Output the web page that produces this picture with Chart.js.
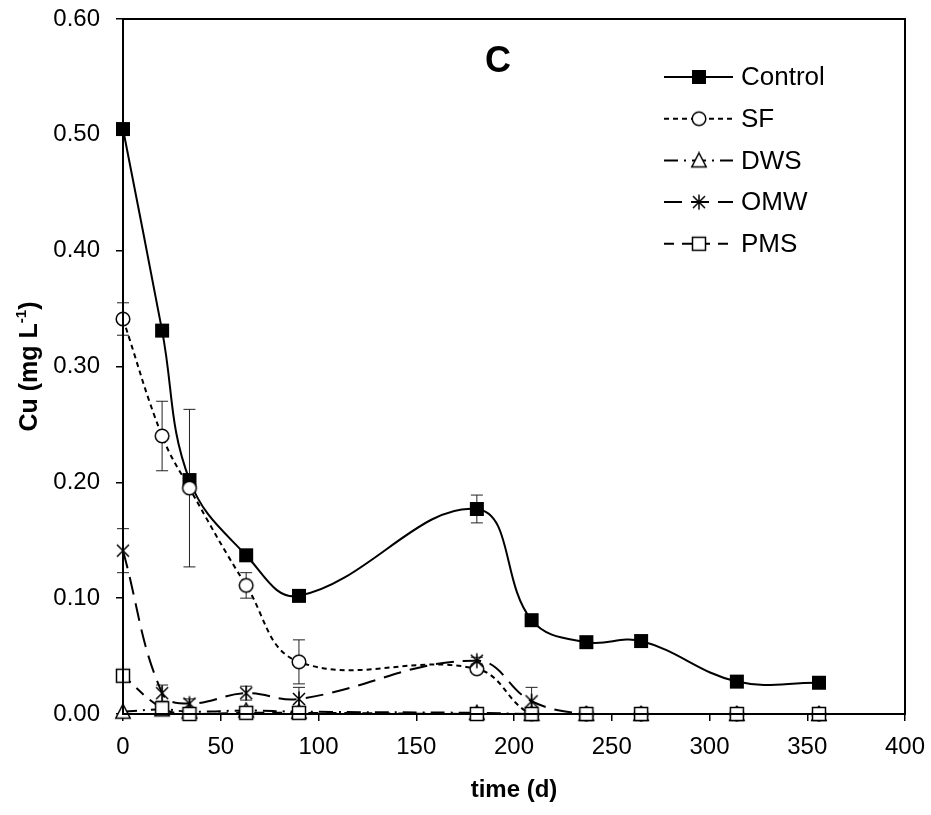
<!DOCTYPE html>
<html>
<head>
<meta charset="utf-8">
<script src="https://cdn.jsdelivr.net/npm/chart.js@4.4.1/dist/chart.umd.min.js"></script>
<style>
  body { margin: 0; background: #fff; }
  #wrap { width: 931px; height: 815px; position: relative; }
</style>
</head>
<body>
<div id="wrap"><canvas id="chart"></canvas></div>
<script>
// sampling days (d)
const days = [0, 20, 34, 63, 90, 181, 209, 237, 265, 314, 356];

// Cu (mg L-1) per treatment
const control = [0.505, 0.331, 0.202, 0.137, 0.102, 0.177, 0.081, 0.062, 0.063, 0.028, 0.027];
const sf = [0.341, 0.240, 0.195, 0.111, 0.045, 0.039, 0, 0, 0, 0, 0];
const dws = [0.002, 0.004, 0.002, 0.003, 0.002, 0.001, 0, 0, 0, 0, 0];
const omw = [0.141, 0.018, 0.009, 0.018, 0.013, 0.046, 0.011, 0, 0, 0, 0];
const pms = [0.033, 0.005, 0, 0.001, 0.001, 0, 0, 0, 0, 0, 0];

// standard errors
const controlErr = [0, 0, 0, 0, 0, 0.012, 0, 0, 0, 0, 0];
const sfErr = [0.014, 0.030, 0.068, 0.011, 0.019, 0.003, 0, 0, 0, 0, 0];
const omwErr = [0.019, 0.007, 0.004, 0.006, 0.010, 0.003, 0.012, 0, 0, 0, 0];

const FONT = "'Liberation Sans', Arial, sans-serif";

function makeMarker(kind) {
  const c = document.createElement("canvas");
  c.width = 18;
  c.height = 18;
  const g = c.getContext("2d");
  g.strokeStyle = "#000";
  g.fillStyle = "#fff";
  g.lineWidth = 1.5;
  if (kind === "fillSquare") {
    g.fillStyle = "#000";
    g.fillRect(2, 2, 14, 14);
  } else if (kind === "circle") {
    g.beginPath();
    g.arc(9, 9, 6.8, 0, Math.PI * 2);
    g.fill();
    g.stroke();
  } else if (kind === "triangle") {
    g.beginPath();
    g.moveTo(9, 1.5);
    g.lineTo(16.2, 15.5);
    g.lineTo(1.8, 15.5);
    g.closePath();
    g.fill();
    g.stroke();
  } else if (kind === "star") {
    g.beginPath();
    g.moveTo(3, 3); g.lineTo(15, 15);
    g.moveTo(15, 3); g.lineTo(3, 15);
    g.moveTo(9, 1.5); g.lineTo(9, 16.5);
    g.stroke();
  } else {
    g.fillRect(2.5, 2.5, 13, 13);
    g.strokeRect(2.5, 2.5, 13, 13);
  }
  return c;
}

function series(label, values, marker, dash, order) {
  return {
    label,
    data: days.map((d, i) => ({ x: d, y: values[i] })),
    borderColor: "#000",
    borderWidth: 2,
    borderDash: dash,
    pointStyle: makeMarker(marker),
    tension: 0.4,
    clip: false,
    order,
  };
}

const datasets = [
  series("Control", control, "fillSquare", [], 5),
  series("SF", sf, "circle", [5, 4], 4),
  series("DWS", dws, "triangle", [14, 6, 2, 6], 3),
  series("OMW", omw, "star", [18, 9], 2),
  series("PMS", pms, "openSquare", [10, 8], 1),
];
const errors = [controlErr, sfErr, null, omwErr, null];

const errorBars = {
  id: "errorBars",
  beforeDatasetsDraw(chart) {
    const { ctx, scales } = chart;
    ctx.save();
    ctx.strokeStyle = "#222";
    ctx.lineWidth = 1;
    errors.forEach((err, k) => {
      if (!err) return;
      const vals = datasets[k].data;
      err.forEach((e, i) => {
        if (!e) return;
        const x = scales.x.getPixelForValue(vals[i].x);
        const top = scales.y.getPixelForValue(vals[i].y + e);
        const bot = scales.y.getPixelForValue(vals[i].y - e);
        ctx.beginPath();
        ctx.moveTo(x, top); ctx.lineTo(x, bot);
        ctx.moveTo(x - 6, top); ctx.lineTo(x + 6, top);
        ctx.moveTo(x - 6, bot); ctx.lineTo(x + 6, bot);
        ctx.stroke();
      });
    });
    ctx.restore();
  },
};

const frame = {
  id: "frame",
  afterDraw(chart) {
    const { ctx, chartArea: a } = chart;
    ctx.save();
    ctx.strokeStyle = "#000";
    ctx.lineWidth = 2;
    ctx.strokeRect(a.left, a.top, a.right - a.left, a.bottom - a.top);

    // panel letter
    ctx.fillStyle = "#000";
    ctx.textAlign = "center";
    ctx.textBaseline = "middle";
    ctx.font = "bold 36px " + FONT;
    ctx.fillText("C", 498, 62);

    // axis titles
    ctx.font = "bold 24px " + FONT;
    ctx.fillText("time (d)", (a.left + a.right) / 2, 790);
    ctx.save();
    ctx.translate(30, (a.top + a.bottom) / 2);
    ctx.rotate(-Math.PI / 2);
    const main = "Cu (mg L";
    const sup = "-1";
    const tail = ")";
    ctx.font = "bold 25px " + FONT;
    const wMain = ctx.measureText(main).width;
    const wTail = ctx.measureText(tail).width;
    ctx.font = "bold 15px " + FONT;
    const wSup = ctx.measureText(sup).width;
    const start = -(wMain + wSup + wTail) / 2;
    ctx.textAlign = "left";
    ctx.font = "bold 25px " + FONT;
    ctx.fillText(main, start, 0);
    ctx.fillText(tail, start + wMain + wSup, 0);
    ctx.font = "bold 15px " + FONT;
    ctx.fillText(sup, start + wMain, -8);
    ctx.restore();

    // legend: line with marker, then label
    ctx.font = "26px " + FONT;
    ctx.textAlign = "left";
    datasets.forEach((ds, i) => {
      const y = 77 + i * 41.7;
      ctx.beginPath();
      ctx.lineWidth = 2;
      ctx.setLineDash(ds.borderDash);
      ctx.moveTo(664, y);
      ctx.lineTo(733, y);
      ctx.stroke();
      ctx.setLineDash([]);
      const m = ds.pointStyle;
      ctx.drawImage(m, 699 - m.width / 2, y - m.height / 2);
      ctx.fillText(ds.label, 741, y + 1);
    });
    ctx.restore();
  },
};

new Chart(document.querySelector("#chart"), {
  type: "line",
  data: { datasets },
  options: {
    responsive: true,
    maintainAspectRatio: false,
    animation: false,
    events: [],
    layout: { padding: { top: 19, right: 26, left: 0, bottom: 0 } },
    plugins: { legend: { display: false }, tooltip: { enabled: false } },
    scales: {
      x: {
        type: "linear",
        min: 0,
        max: 400,
        afterFit(s) {
          s.height = 101;
          s.paddingLeft = 0;
          s.paddingRight = 0;
        },
        ticks: { stepSize: 50, color: "#000", padding: 12, font: { family: FONT, size: 24 } },
        grid: { drawOnChartArea: false, tickLength: 7, color: "#000", lineWidth: 1.5 },
        border: { color: "#000", width: 2 },
      },
      y: {
        min: 0,
        max: 0.6,
        afterFit(s) {
          s.width = 123;
          s.paddingTop = 0;
          s.paddingBottom = 0;
        },
        ticks: {
          stepSize: 0.1,
          color: "#000",
          padding: 16,
          font: { family: FONT, size: 24 },
          callback: (v) => v.toFixed(2),
        },
        grid: { drawOnChartArea: false, tickLength: 7, color: "#000", lineWidth: 1.5 },
        border: { color: "#000", width: 2 },
      },
    },
  },
  plugins: [errorBars, frame],
});
</script>
</body>
</html>
